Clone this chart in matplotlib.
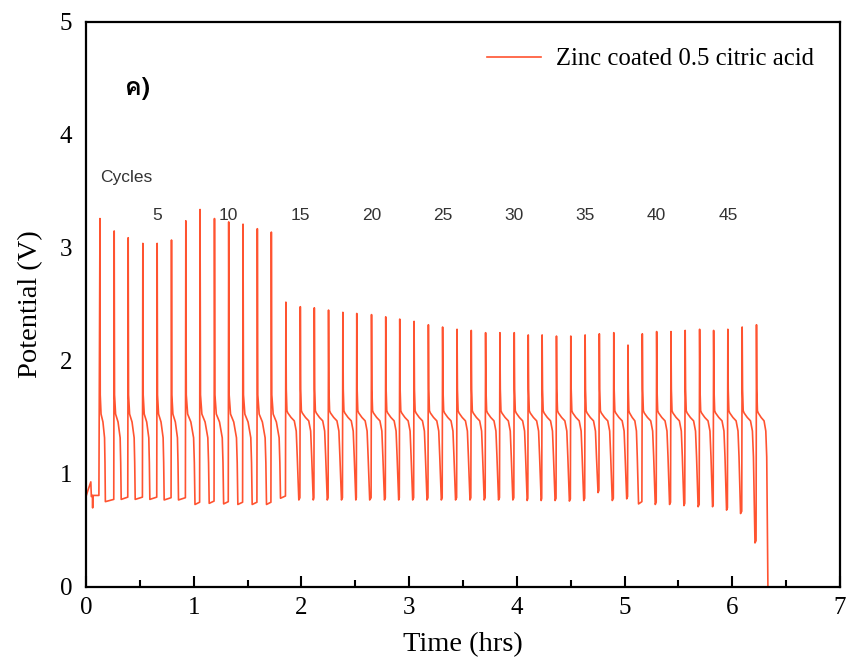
import numpy as np
import matplotlib
matplotlib.use("Agg")
import matplotlib.pyplot as plt
from matplotlib import font_manager
from matplotlib.ft2font import FT2Font
from matplotlib.ticker import MultipleLocator

# cycle peaks: time (hrs) and potential (V)
PEAK_T = [0.130, 0.262, 0.392, 0.528, 0.661, 0.794, 0.927, 1.059, 1.193, 1.325,
          1.458, 1.591, 1.721, 1.856, 1.990, 2.120, 2.252, 2.385, 2.514, 2.651,
          2.783, 2.913, 3.046, 3.179, 3.311, 3.445, 3.577, 3.710, 3.843, 3.976,
          4.106, 4.235, 4.368, 4.501, 4.634, 4.766, 4.900, 5.032, 5.165, 5.298,
          5.431, 5.563, 5.697, 5.827, 5.959, 6.092, 6.225]
PEAK_V = [3.26, 3.15, 3.09, 3.04, 3.04, 3.07, 3.24, 3.34, 3.26, 3.23,
          3.21, 3.17, 3.14, 2.52, 2.48, 2.47, 2.45, 2.43, 2.42, 2.41,
          2.39, 2.37, 2.35, 2.32, 2.30, 2.28, 2.27, 2.25, 2.25, 2.25,
          2.23, 2.23, 2.22, 2.22, 2.23, 2.24, 2.25, 2.14, 2.24, 2.26,
          2.26, 2.27, 2.28, 2.27, 2.28, 2.30, 2.32]
# potential at the end of each discharge and hours from peak to that point
TROUGH_V = [0.755, 0.775, 0.775, 0.775, 0.77, 0.77, 0.73, 0.74, 0.735, 0.73,
            0.73, 0.73, 0.785, 0.77, 0.77, 0.77, 0.77, 0.77, 0.77, 0.77,
            0.77, 0.77, 0.77, 0.77, 0.77, 0.77, 0.77, 0.77, 0.77, 0.765,
            0.765, 0.765, 0.76, 0.765, 0.835, 0.765, 0.78, 0.735, 0.73, 0.73,
            0.72, 0.71, 0.71, 0.68, 0.65, 0.39, -0.2]
DROP_HRS = [0.050, 0.065, 0.065, 0.065, 0.065, 0.065, 0.085, 0.085, 0.085, 0.085,
            0.085, 0.085, 0.085, 0.120, 0.120, 0.120, 0.120, 0.120, 0.120, 0.120,
            0.120, 0.120, 0.120, 0.120, 0.120, 0.120, 0.120, 0.120, 0.120, 0.120,
            0.120, 0.120, 0.120, 0.120, 0.120, 0.120, 0.120, 0.098, 0.120, 0.120,
            0.120, 0.120, 0.120, 0.120, 0.118, 0.119, 0.108]

# rest period before the first charge
REST_T = [0.0, 0.02, 0.045, 0.050, 0.060, 0.062, 0.064, 0.120]
REST_V = [0.80, 0.86, 0.93, 0.80, 0.81, 0.70, 0.81, 0.81]

# discharge plateau shape (fraction of drop time, potential)
EARLY_FRAC = [0.05, 0.20, 0.55, 0.85, 0.93]
EARLY_V = [1.70, 1.53, 1.46, 1.32, 1.10]
LATE_FRAC = [0.03, 0.08, 0.15, 0.40, 0.65, 0.80, 0.88]
LATE_V = [1.75, 1.56, 1.54, 1.50, 1.47, 1.38, 1.15]
N_EARLY = 13

CYCLE_LABELS = [5, 10, 15, 20, 25, 30, 35, 40, 45]

t = list(REST_T)
v = list(REST_V)
for i, (tp, vp) in enumerate(zip(PEAK_T, PEAK_V)):
    if i > 0:
        t.append(tp - 0.004)
        v.append(TROUGH_V[i - 1] + 0.02)
    t.append(tp)
    v.append(vp)
    frac, shape = (EARLY_FRAC, EARLY_V) if i < N_EARLY else (LATE_FRAC, LATE_V)
    for f, s in zip(frac, shape):
        t.append(tp + f * DROP_HRS[i])
        v.append(s)
    t.append(tp + DROP_HRS[i])
    v.append(TROUGH_V[i])


def thai_font():
    for fe in font_manager.fontManager.ttflist:
        try:
            if 0x0E04 in FT2Font(fe.fname).get_charmap():
                return fe.name
        except Exception:
            continue
    return "DejaVu Sans"


fig = plt.figure(figsize=(8.47, 6.64), dpi=100)
ax = fig.add_axes([0.1015, 0.116, 0.8902, 0.851])

ax.plot(t, v, color="#ff5330", lw=1.2, label="Zinc coated 0.5 citric acid")

ax.set_xlim(0, 7)
ax.set_ylim(0, 5)
ax.xaxis.set_major_locator(MultipleLocator(1))
ax.xaxis.set_minor_locator(MultipleLocator(0.5))
ax.yaxis.set_major_locator(MultipleLocator(1))
ax.tick_params(axis="x", which="major", direction="in", length=8, width=1.5, pad=7)
ax.tick_params(axis="x", which="minor", direction="in", length=5, width=1.5)
ax.tick_params(axis="y", length=0, pad=10)
for lab in ax.get_xticklabels() + ax.get_yticklabels():
    lab.set_fontfamily("Liberation Serif")
    lab.set_fontsize(18)
for side in ["left", "bottom", "right", "top"]:
    ax.spines[side].set_linewidth(1.6)

ax.set_xlabel("Time (hrs)", fontfamily="Liberation Serif", fontsize=20.5, labelpad=10)
ax.set_ylabel("Potential (V)", fontfamily="Liberation Serif", fontsize=20.5, labelpad=12)

ax.legend(loc="upper right", frameon=False, handlelength=2.2, handletextpad=0.6,
          prop={"family": "Liberation Serif", "size": 17.8},
          bbox_to_anchor=(0.995, 0.993))

ax.text(0.37, 3.62, "Cycles", fontfamily="Liberation Sans", fontsize=12.5,
        color="#333333", ha="center", va="center")
for n in CYCLE_LABELS:
    ax.text(PEAK_T[n - 1], 3.29, str(n), fontfamily="Liberation Sans",
            fontsize=12.5, color="#333333", ha="center", va="center")

ax.text(0.052, 0.883, "ค)", transform=ax.transAxes, fontfamily=thai_font(),
        fontsize=18, fontweight="bold", ha="left", va="center")

fig.savefig("out.png", dpi=100)
